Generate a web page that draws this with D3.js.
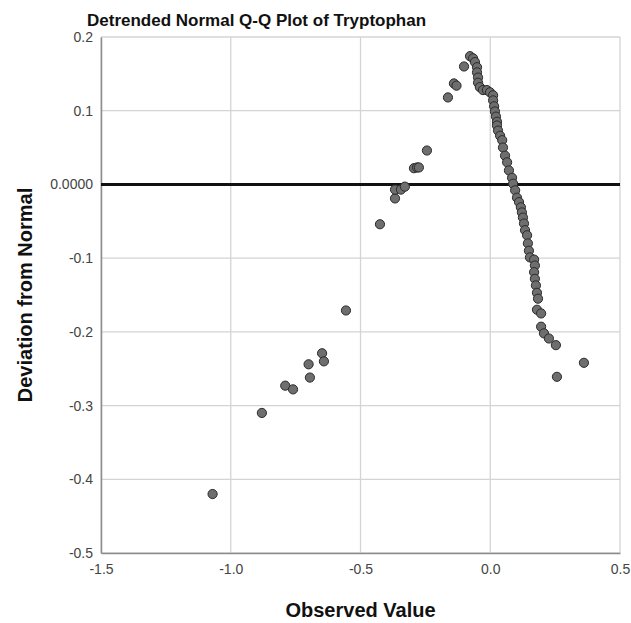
<!DOCTYPE html>
<html><head><meta charset="utf-8">
<script src="https://cdn.jsdelivr.net/npm/d3@7"></script>
<style>
html,body{margin:0;padding:0;background:#fff;}
text{font-family:"Liberation Sans",Arial,sans-serif;}
</style></head>
<body>
<svg id="chart" width="631" height="623"></svg>
<script>
const title = "Detrended Normal Q-Q Plot of Tryptophan";
const xTitle = "Observed Value";
const yTitle = "Deviation from Normal";
const xTicks = [-1.5, -1.0, -0.5, 0.0, 0.5];
const xTickLabels = ["-1.5", "-1.0", "-0.5", "0.0", "0.5"];
const yTicks = [0.2, 0.1, 0.0, -0.1, -0.2, -0.3, -0.4, -0.5];
const yTickLabels = ["0.2", "0.1", "0.0000", "-0.1", "-0.2", "-0.3", "-0.4", "-0.5"];
const observed = [
 -1.07, -0.88, -0.79, -0.76, -0.70, -0.695, -0.648, -0.641, -0.556, -0.425,
 -0.367, -0.367, -0.344, -0.329, -0.294, -0.282, -0.275, -0.244, -0.163, -0.140,
 -0.130, -0.101, -0.078, -0.066, -0.059, -0.051, -0.051, -0.047, -0.047, -0.040,
 -0.028, -0.013, -0.001, 0.011, 0.011, 0.015, 0.018, 0.022, 0.026, 0.026,
 0.030, 0.038, 0.046, 0.049, 0.057, 0.065, 0.072, 0.084, 0.088, 0.096,
 0.103, 0.111, 0.118, 0.122, 0.126, 0.130, 0.134, 0.142, 0.145, 0.149,
 0.153, 0.169, 0.172, 0.169, 0.172, 0.176, 0.180, 0.184, 0.180, 0.196,
 0.196, 0.207, 0.226, 0.253, 0.257, 0.361
];
const deviation = [
 -0.420, -0.310, -0.273, -0.278, -0.244, -0.262, -0.229, -0.240, -0.171, -0.054,
 -0.019, -0.007, -0.007, -0.003, 0.022, 0.023, 0.023, 0.046, 0.118, 0.137,
 0.134, 0.160, 0.174, 0.171, 0.166, 0.159, 0.152, 0.145, 0.138, 0.132,
 0.128, 0.128, 0.125, 0.121, 0.114, 0.106, 0.099, 0.092, 0.085, 0.080,
 0.073, 0.066, 0.060, 0.050, 0.039, 0.030, 0.019, 0.009, 0.001, -0.008,
 -0.018, -0.024, -0.031, -0.038, -0.045, -0.053, -0.062, -0.069, -0.080, -0.090,
 -0.099, -0.102, -0.110, -0.119, -0.128, -0.137, -0.147, -0.155, -0.170, -0.175,
 -0.193, -0.202, -0.209, -0.218, -0.261, -0.242
];

const svg = d3.select("#chart");
const m = {left: 101, right: 11, top: 37, bottom: 70};
const W = 631, H = 623;
const x = d3.scaleLinear().domain([-1.5, 0.5]).range([m.left, W - m.right]);
const y = d3.scaleLinear().domain([-0.5, 0.2]).range([H - m.bottom, m.top]);

// grid
const g = svg.append("g");
g.selectAll("line.vx").data(xTicks).enter().append("line")
  .attr("x1", d => x(d)).attr("x2", d => x(d))
  .attr("y1", y(0.2)).attr("y2", y(-0.5))
  .attr("stroke", "#d4d4d4").attr("stroke-width", 1.3);
g.selectAll("line.hy").data(yTicks).enter().append("line")
  .attr("x1", x(-1.5)).attr("x2", x(0.5))
  .attr("y1", d => y(d)).attr("y2", d => y(d))
  .attr("stroke", "#d4d4d4").attr("stroke-width", 1.3);

// axes
const xAxis = d3.axisBottom(x).tickValues(xTicks).tickSize(0).tickPadding(11)
  .tickFormat((d, i) => xTickLabels[i]);
const yAxis = d3.axisLeft(y).tickValues(yTicks).tickSize(0).tickPadding(8)
  .tickFormat((d, i) => yTickLabels[i]);
const gx = svg.append("g").attr("transform", `translate(0,${y(-0.5)})`).call(xAxis);
const gy = svg.append("g").attr("transform", `translate(${x(-1.5)},0)`).call(yAxis);
[gx, gy].forEach(a => {
  a.select(".domain").attr("stroke", "#8c8c8c").attr("stroke-width", 1.5);
  a.selectAll("text").attr("fill", "#444").style("font-size", "14px")
    .style("font-family", "'Liberation Sans', Arial, sans-serif");
});

// reference line
svg.append("line")
  .attr("x1", x(-1.5)).attr("x2", x(0.5))
  .attr("y1", y(0)).attr("y2", y(0))
  .attr("stroke", "#111").attr("stroke-width", 3);

// points
svg.append("g").selectAll("circle").data(observed).enter().append("circle")
  .attr("cx", d => x(d)).attr("cy", (d, i) => y(deviation[i]))
  .attr("r", 4.6)
  .attr("fill", "#6e6e6e").attr("stroke", "#2a2a2a").attr("stroke-width", 1);

// titles
svg.append("text").attr("x", 87).attr("y", 26).text(title)
  .style("font-size", "17px").style("font-weight", "bold").attr("fill", "#111");
svg.append("text").attr("x", (x(-1.5) + x(0.5)) / 2).attr("y", 617)
  .attr("text-anchor", "middle").text(xTitle)
  .style("font-size", "20px").style("font-weight", "bold").attr("fill", "#111");
svg.append("text").attr("transform", `translate(32,${(y(0.2) + y(-0.5)) / 2}) rotate(-90)`)
  .attr("text-anchor", "middle").text(yTitle)
  .style("font-size", "20px").style("font-weight", "bold").attr("fill", "#111");
</script>
</body></html>
